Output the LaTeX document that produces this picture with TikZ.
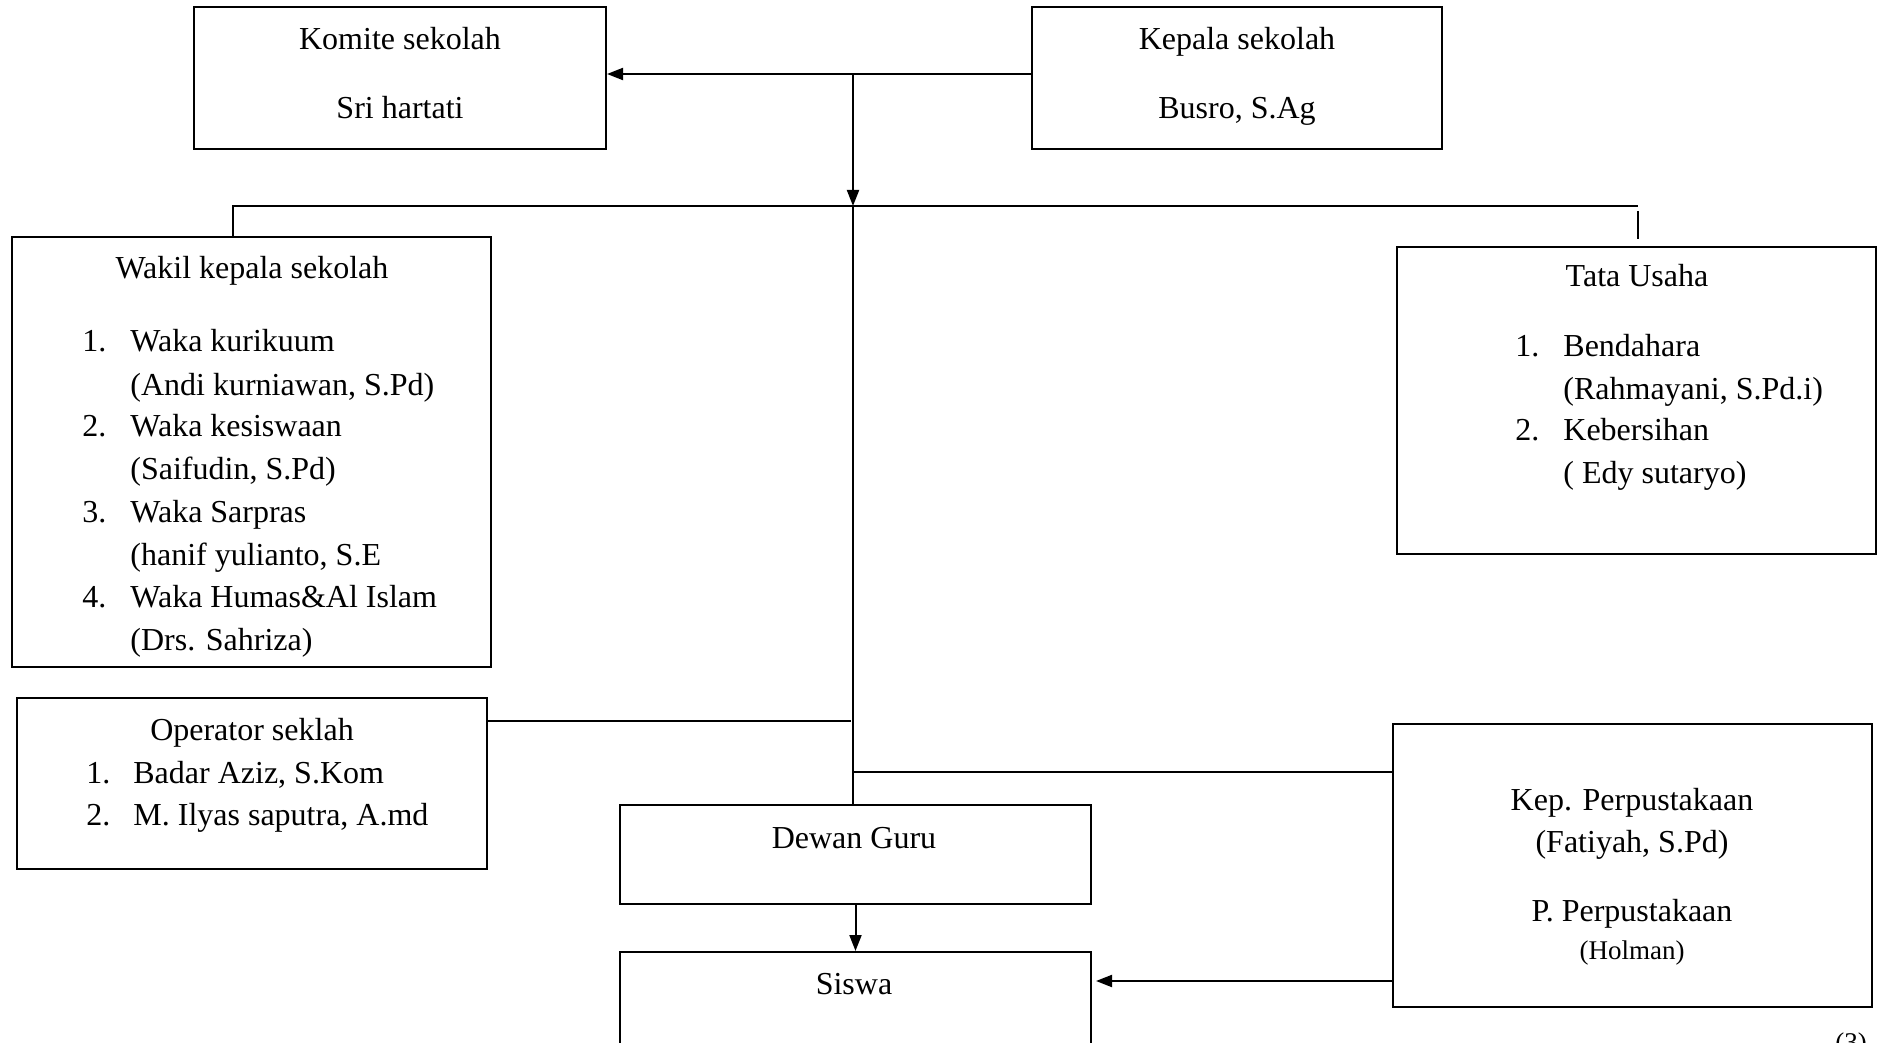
\documentclass[tikz,border=0pt]{standalone}
\usepackage{fontspec}
\setmainfont{Liberation Serif}
\usetikzlibrary{fit,arrows.meta}
\tikzset{
  box/.style={draw, line width=1pt, inner sep=0pt, rectangle},
  txt/.style={inner sep=0pt, text height=10.5pt, text depth=3.5pt, font=\fontsize{16}{19}\selectfont},
  smalltxt/.style={inner sep=0pt, text height=9pt, text depth=3pt, font=\fontsize{13.5}{16}\selectfont},
  conn/.style={line width=1pt},
  arr/.style={line width=1pt, -{Triangle[length=8pt,width=6pt]}}
}
\begin{document}
\begin{tikzpicture}[x=0.5pt,y=-0.5pt]
\useasboundingbox (0,0) rectangle (1881,1043);
\fill[white] (0,0) rectangle (1881,1043);
\clip (0,0) rectangle (1881,1043);

% boxes
\node[box, fit={(194,7) (606,149)}] (komite) {};
\node[box, fit={(1032,7) (1442,149)}] (kepala) {};
\node[box, fit={(12,237) (491,667)}] (wakil) {};
\node[box, fit={(1397,247) (1876,554)}] (tata) {};
\node[box, fit={(17,698) (487,869)}] (operator) {};
\node[box, fit={(620,805) (1091,904)}] (dewan) {};
\node[box, fit={(620,952) (1091,1080)}] (siswa) {};
\node[box, fit={(1393,724) (1872,1007)}] (kep) {};

% texts
\node[txt] (t1) at (400,43) {Komite sekolah};
\node[txt] (t2) at (400,112) {Sri hartati};
\node[txt] (t3) at (1237,43) {Kepala sekolah};
\node[txt] (t4) at (1237,112) {Busro, S.Ag};

\node[txt] (w0) at (252,272) {Wakil kepala sekolah};
\node[txt, anchor=west] (wn1) at (82,345) {1.};
\node[txt, anchor=west] (wa1) at (130,345) {Waka kurikuum};
\node[txt, anchor=west] (wb1) at (130,388) {(Andi kurniawan, S.Pd)};
\node[txt, anchor=west] (wn2) at (82,430) {2.};
\node[txt, anchor=west] (wa2) at (130,430) {Waka kesiswaan};
\node[txt, anchor=west] (wb2) at (130,473) {(Saifudin, S.Pd)};
\node[txt, anchor=west] (wn3) at (82,515) {3.};
\node[txt, anchor=west] (wa3) at (130,515) {Waka Sarpras};
\node[txt, anchor=west] (wb3) at (130,558) {(hanif yulianto, S.E};
\node[txt, anchor=west] (wn4) at (82,600) {4.};
\node[txt, anchor=west] (wa4) at (130,600) {Waka Humas\&Al Islam};
\node[txt, anchor=west] (wb4) at (130,643) {(Drs. Sahriza)};

\node[txt] (u0) at (1637,280) {Tata Usaha};
\node[txt, anchor=west] (un1) at (1515,350) {1.};
\node[txt, anchor=west] (ua1) at (1563,350) {Bendahara};
\node[txt, anchor=west] (ub1) at (1563,393) {(Rahmayani, S.Pd.i)};
\node[txt, anchor=west] (un2) at (1515,434) {2.};
\node[txt, anchor=west] (ua2) at (1563,434) {Kebersihan};
\node[txt, anchor=west] (ub2) at (1563,476) {( Edy sutaryo)};

\node[txt] (o0) at (252,733) {Operator seklah};
\node[txt, anchor=west] (on1) at (86,776) {1.};
\node[txt, anchor=west] (oa1) at (133,776) {Badar Aziz, S.Kom};
\node[txt, anchor=west] (on2) at (86,818) {2.};
\node[txt, anchor=west] (oa2) at (133,818) {M. Ilyas saputra, A.md};

\node[txt] (d0) at (854,841) {Dewan Guru};
\node[txt] (s0) at (854,987) {Siswa};

\node[txt] (k1) at (1632,803) {Kep. Perpustakaan};
\node[txt] (k2) at (1632,845) {(Fatiyah, S.Pd)};
\node[txt] (k3) at (1632,914) {P. Perpustakaan};
\node[smalltxt] (k4) at (1632,953) {(Holman)};

\node[smalltxt, anchor=north] (pg) at (1851,1033) {(3)};

% connectors
\coordinate (j1) at (853,74);
\coordinate (j2) at (853,206);
\coordinate (hl) at (233,206);
\coordinate (hr) at (1638,206);
\coordinate (tk) at (1638,211);
\coordinate (op) at (851,721);
\coordinate (kp) at (853,772);
\coordinate (ks) at (1393,981);

\draw[arr] (j1 -| kepala.west) -- (j1 -| komite.east);
\draw[arr] (j1) -- (j2);
\draw[conn] (hl |- wakil.north) -- (hl) -- (hr);
\draw[conn] (tk) -- ([yshift=3.5pt]tk |- tata.north);
\draw[conn] (j2) -- (j2 |- dewan.north);
\draw[conn] (op -| operator.east) -- (op);
\draw[conn] (kp) -- (kp -| kep.west);
\draw[arr] (dewan.south) -- (siswa.north);
\draw[arr, shorten >=2pt] (ks -| kep.west) -- (ks -| siswa.east);
\end{tikzpicture}
\end{document}
